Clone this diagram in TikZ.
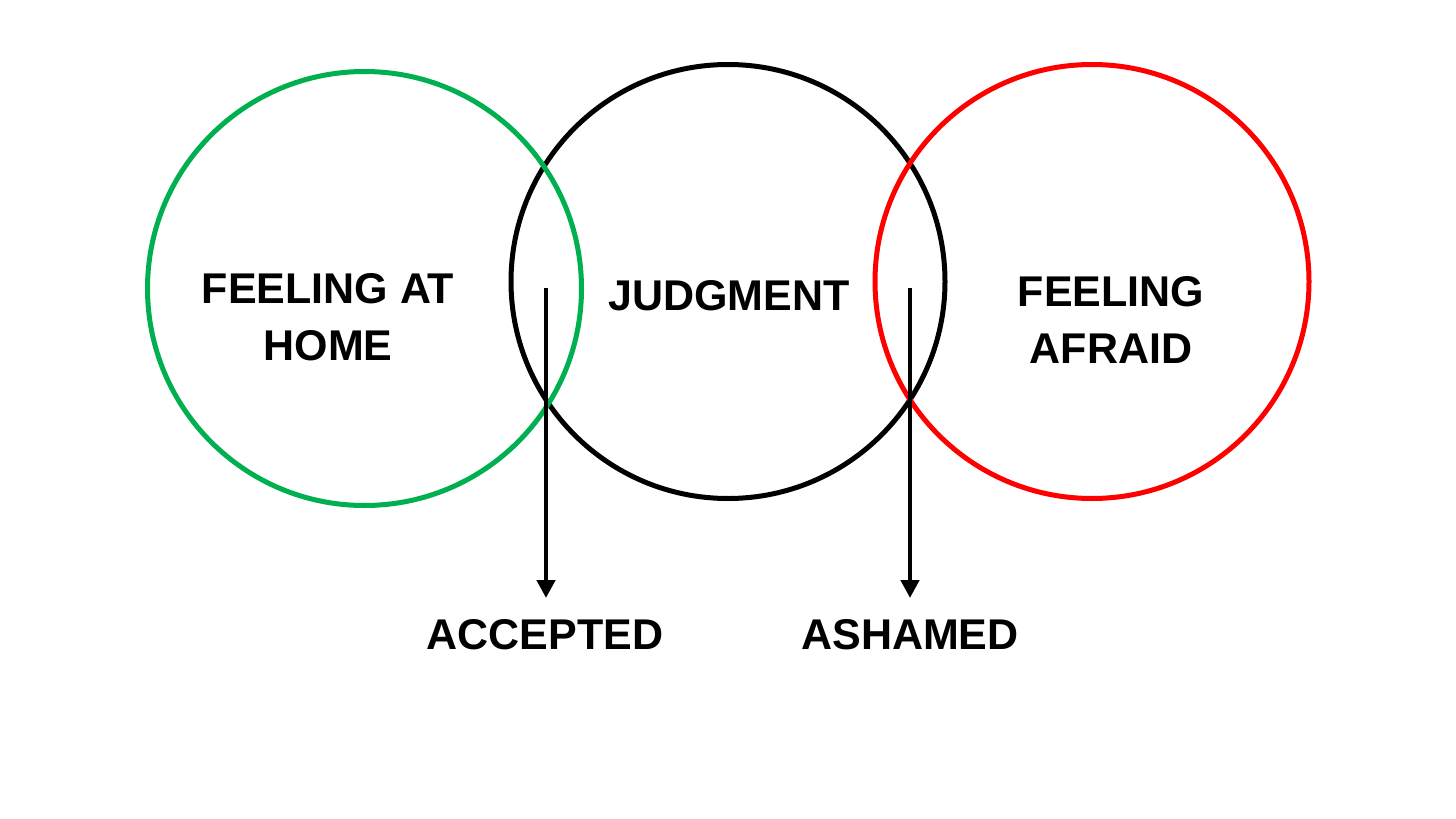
\documentclass[tikz,border=0pt]{standalone}
\usepackage{fontspec}
\setmainfont{Liberation Sans}
\usetikzlibrary{arrows.meta}
\definecolor{cgreen}{HTML}{00B050}
\definecolor{cred}{HTML}{FF0000}
\begin{document}
\begin{tikzpicture}[x=1pt,y=-1pt,
  ring/.style={circle,draw=#1,line width=5pt,minimum size=434pt,inner sep=0pt},
  lbl/.style={font=\fontsize{43}{57}\selectfont\bfseries,align=center,inner sep=0pt},
  pointer/.style={line width=4.5pt,-{Triangle[width=18pt,length=18pt]}}]
\useasboundingbox (0,0) rectangle (1456,819);
\fill[white] (0,0) rectangle (1456,819);
\node[ring=black] (judg) at (728,281.5) {};
\node[ring=cgreen] (home) at (364.5,288.5) {};
\node[ring=cred] (afraid) at (1092,281.5) {};
\node[lbl] (thome) at (328,317.5) {FEELING AT\\HOME};
\node[lbl] (tjudg) at (729,296) {JUDGMENT};
\node[lbl] (tafraid) at (1111,319.5) {FEELING\\AFRAID};
\node[lbl] (acc) at (545,635) {ACCEPTED};
\node[lbl] (ash) at (910,635) {ASHAMED};
\coordinate (s1) at (546,288);
\coordinate (e1) at (546,598);
\coordinate (s2) at (910,288);
\coordinate (e2) at (910,598);
\draw[pointer] (s1) -- (e1);
\draw[pointer] (s2) -- (e2);
\end{tikzpicture}
\end{document}
